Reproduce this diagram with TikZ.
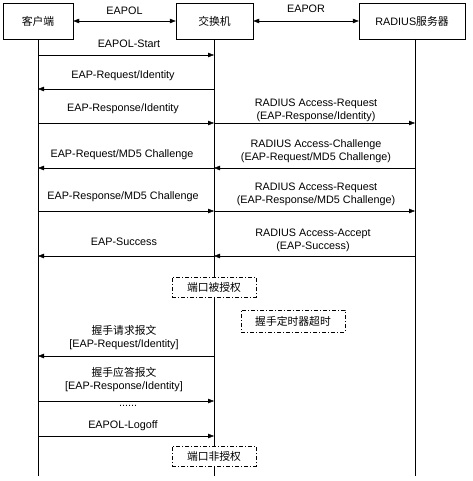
\documentclass[tikz,border=0pt]{standalone}
\usepackage{fontspec}
\setmainfont{Liberation Sans}
\newfontfamily\cjk{Noto Sans CJK SC}
\usepackage{tikz}
\usetikzlibrary{arrows.meta, positioning}

\begin{document}
\begin{tikzpicture}[
          x=1pt, y=-1pt,
          every node/.style={font=\fontsize{10.8}{13}\selectfont, inner sep=1pt},
          entity/.style={draw, minimum height=36pt},
          msg/.style={-{Triangle[length=6pt,width=4.5pt]}},
          both/.style={{Triangle[length=6pt,width=4.5pt]}-{Triangle[length=6pt,width=4.5pt]}},
          lbl/.style={align=center},
          portstate/.style={draw, dash pattern=on 4pt off 2pt on 1pt off 2pt, minimum height=20pt, minimum width=84pt}
        ]
          \useasboundingbox (0,0) rectangle (472,481);

          % entities
          \node[entity, minimum width=70pt] (client) at (38,21) {\cjk 客户端};
          \node[entity, minimum width=77pt] (switch) at (214.5,21) {\cjk 交换机};
          \node[entity, minimum width=106pt] (radius) at (412,21) {RADIUS{\cjk 服务器}};

          \draw[both] (client) -- node[above=5pt] {EAPOL} (switch);
          \draw[both] (switch) -- node[above=7pt] {EAPOR} (radius);

          % lifelines
          \coordinate (clientEnd) at (38,476);
          \coordinate (switchEnd) at (214,476);
          \coordinate (radiusTop) at (415,39);
          \coordinate (radiusEnd) at (415,476);
          \draw (client.south) -- (clientEnd);
          \draw (switch.south -| switchEnd) -- (switchEnd);
          \draw (radiusTop) -- (radiusEnd);

          % authentication
          \draw[msg] (clientEnd |- 0,55) -- (switchEnd |- 0,55);
          \node (start) at (129,44) {EAPOL-Start};

          \draw[msg] (switchEnd |- 0,89) -- (clientEnd |- 0,89);
          \node (reqId) at (123,76) {EAP-Request/Identity};

          \draw[msg] (clientEnd |- 0,123) -- (switchEnd |- 0,123);
          \node (respId) at (123,109) {EAP-Response/Identity};
          \draw[msg] (switchEnd |- 0,123) -- (radiusEnd |- 0,123);
          \node[lbl] (accReq) at (316,110) {RADIUS Access-Request\\(EAP-Response/Identity)};

          \draw[msg] (radiusEnd |- 0,168) -- (switchEnd |- 0,168);
          \node[lbl] (accChal) at (316,151) {RADIUS Access-Challenge\\(EAP-Request/MD5 Challenge)};
          \draw[msg] (switchEnd |- 0,168) -- (clientEnd |- 0,168);
          \node (reqMd5) at (122,155) {EAP-Request/MD5 Challenge};

          \draw[msg] (clientEnd |- 0,211) -- (switchEnd |- 0,211);
          \node (respMd5) at (123,197) {EAP-Response/MD5 Challenge};
          \draw[msg] (switchEnd |- 0,211) -- (radiusEnd |- 0,211);
          \node[lbl] (accReq2) at (316,194) {RADIUS Access-Request\\(EAP-Response/MD5 Challenge)};

          \draw[msg] (radiusEnd |- 0,256) -- (switchEnd |- 0,256);
          \node[lbl] (accept) at (313,240) {RADIUS Access-Accept\\(EAP-Success)};
          \draw[msg] (switchEnd |- 0,256) -- (clientEnd |- 0,256);
          \node (success) at (124,242) {EAP-Success};

          \node[portstate, fill=white] (authorized) at (214,287) {\cjk 端口被授权};

          % handshake
          \node[portstate, minimum width=104pt, minimum height=22pt] (timeout) at (293,321) {\cjk 握手定时器超时};

          \draw[msg] (switchEnd |- 0,356) -- (clientEnd |- 0,356);
          \node[lbl] (hsReq) at (124,338) {{\cjk 握手请求报文}\\{[}EAP-Request/Identity{]}};

          \draw[msg] (clientEnd |- 0,401) -- (switchEnd |- 0,401);
          \node[lbl] (hsResp) at (124,380) {{\cjk 握手应答报文}\\{[}EAP-Response/Identity{]}};

          \node (dots) at (128,406) {......};

          \draw[msg] (clientEnd |- 0,436) -- (switchEnd |- 0,436);
          \node (logoff) at (123,426) {EAPOL-Logoff};

          \node[portstate, fill=white] (unauthorized) at (214,456) {\cjk 端口非授权};
        \end{tikzpicture}
\end{document}
